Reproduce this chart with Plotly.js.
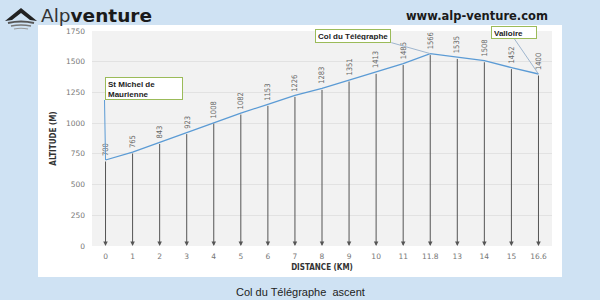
<!DOCTYPE html>
<html><head><meta charset="utf-8">
<script src="https://cdn.plot.ly/plotly-3.0.1.min.js"></script>
<style>html,body{margin:0;padding:0;background:#cfe2f3;}#chart{width:600px;height:300px;}</style>
</head><body><div id="chart"></div>
<script>
const distances = ["0","1","2","3","4","5","6","7","8","9","10","11","11.8","13","14","15","16.6"];
const altitudes = [700,765,843,923,1008,1082,1153,1226,1283,1351,1413,1485,1566,1535,1508,1452,1400];
const places = [
  {idx:0, text:"St Michel de<br>Maurienne"},
  {idx:12, text:"Col du Télégraphe"},
  {idx:16, text:"Valloire"}
];
const yTicks = [0,250,500,750,1000,1250,1500,1750];

// layout geometry helpers (pixel -> paper fraction for decoration)
const L=92, R=48, T=31, B=54, W=600, H=300;
const pw=W-L-R, ph=H-T-B;
const px=x=>(x-L)/pw, py=y=>(H-B-y)/ph;

const annotations = [];
// drop arrows from each point to zero
altitudes.forEach((v,i)=>{
  annotations.push({x:i, y:0, xref:'x', yref:'y', ax:i, ay:v, axref:'x', ayref:'y',
    showarrow:true, arrowhead:2, arrowsize:0.9, arrowwidth:1, arrowcolor:'#555', text:'', standoff:0});
});
// value labels
altitudes.forEach((v,i)=>{
  annotations.push({x:i, y:v, xref:'x', yref:'y', text:String(v), showarrow:false, textangle:-90,
    yanchor:'bottom', xanchor:'center', yshift:2,
    font:{family:'"DejaVu Sans Condensed","Liberation Sans Narrow",sans-serif', size:7.5, color:'#666'}});
});
// place callouts
const boxFont = {family:'"Liberation Sans", Arial, sans-serif', size:8, color:'#222', weight:'bold'};
const callout = [
  {ax:-1, ay:-60, xanchor:'left', yanchor:'bottom', width:72, height:17, align:'left'},
  {ax:-39, ay:-11, xanchor:'right', yanchor:'bottom', width:70, height:8, align:'left'},
  {ax:-24, ay:-35, xanchor:'center', yanchor:'bottom', width:40, height:7, align:'left'}
];
places.forEach((p,k)=>{
  const c = callout[k];
  annotations.push(Object.assign({x:p.idx, y:altitudes[p.idx], xref:'x', yref:'y', text:'<b>'+p.text+'</b>',
    showarrow:true, arrowhead:0, arrowwidth:1, arrowcolor: k===0?'#5b9bd5':'#9fb6cf',
    bgcolor:'#ffffff', bordercolor:'#9bbb59', borderwidth:1, borderpad:2, valign:'top',
    font:boxFont}, c));
});
// header texts & caption
annotations.push({xref:'paper', yref:'paper', x:px(477), y:py(16), text:'<b>www.alp-venture.com</b>', showarrow:false,
  font:{family:'"DejaVu Sans", Verdana, sans-serif', size:11.5, color:'#1a1a1a'}, xanchor:'center', yanchor:'middle'});
annotations.push({xref:'paper', yref:'paper', x:px(39), y:py(15), text:'<span style="font-weight:normal;color:#333">Alp</span><b>venture</b>', showarrow:false,
  font:{family:'"DejaVu Sans", sans-serif', size:18.5, color:'#1a1a1a'}, xanchor:'left', yanchor:'middle'});
annotations.push({xref:'paper', yref:'paper', x:px(300), y:py(292), text:'Col du Télégraphe  ascent', showarrow:false,
  font:{family:'"Liberation Sans", Arial, sans-serif', size:11, color:'#222'}, xanchor:'center', yanchor:'middle'});

const shapes = [
  {type:'rect', xref:'paper', yref:'paper', x0:px(38), x1:px(562), y0:py(277), y1:py(25), fillcolor:'#ffffff', line:{width:0}, layer:'below'},
  {type:'rect', xref:'paper', yref:'paper', x0:0, x1:1, y0:0, y1:1, fillcolor:'#f2f2f2', line:{width:0}, layer:'below'},
  // logo icon
  {type:'path', xref:'paper', yref:'paper', layer:'above',
   path:`M ${px(5)} ${py(21)} L ${px(21)} ${py(8)} L ${px(37)} ${py(21)} L ${px(30)} ${py(20)} L ${px(21)} ${py(13)} L ${px(12)} ${py(20)} Z`,
   fillcolor:'#222', line:{width:0}},
  {type:'path', xref:'paper', yref:'paper', layer:'above',
   path:`M ${px(8)} ${py(23)} Q ${px(21)} ${py(20)} ${px(34)} ${py(23)}`, line:{color:'#555', width:2}},
  {type:'path', xref:'paper', yref:'paper', layer:'above',
   path:`M ${px(11)} ${py(26)} Q ${px(21)} ${py(24)} ${px(31)} ${py(26)}`, line:{color:'#777', width:1.5}},
  {type:'path', xref:'paper', yref:'paper', layer:'above',
   path:`M ${px(14)} ${py(29)} Q ${px(21)} ${py(27.5)} ${px(28)} ${py(29)}`, line:{color:'#999', width:1.2}}
];

const trace = {x:distances, y:altitudes, type:'scatter', mode:'lines', line:{color:'#5b9bd5', width:1.3},
  hoverinfo:'skip'};

const layout = {
  width:W, height:H, margin:{l:L, r:R, t:T, b:B, pad:0},
  paper_bgcolor:'#cfe2f3', plot_bgcolor:'rgba(0,0,0,0)',
  showlegend:false,
  xaxis:{type:'category', categoryorder:'array', categoryarray:distances, range:[-0.5,16.5], showgrid:false, zeroline:false, showline:false,
    ticks:'', tickfont:{family:'"DejaVu Sans", Verdana, sans-serif', size:7.5, color:'#777'}, ticklabelstandoff:4,
    title:{text:'<b>DISTANCE (KM)</b>', font:{family:'"DejaVu Sans Condensed","Liberation Sans Narrow",sans-serif', size:8, color:'#333'}, standoff:4}},
  yaxis:{range:[0,1750], tickvals:yTicks, showgrid:true, gridcolor:'#e2e2e2', gridwidth:1, zeroline:false, showline:false,
    ticks:'', tickfont:{family:'"DejaVu Sans", Verdana, sans-serif', size:7.5, color:'#777'}, ticklabelstandoff:6,
    title:{text:'<b>ALTITUDE (M)</b>', font:{family:'"DejaVu Sans Condensed","Liberation Sans Narrow",sans-serif', size:8, color:'#333'}, standoff:8}},
  annotations, shapes
};
Plotly.newPlot('chart',[trace],layout,{staticPlot:true, displayModeBar:false});
</script></body></html>
